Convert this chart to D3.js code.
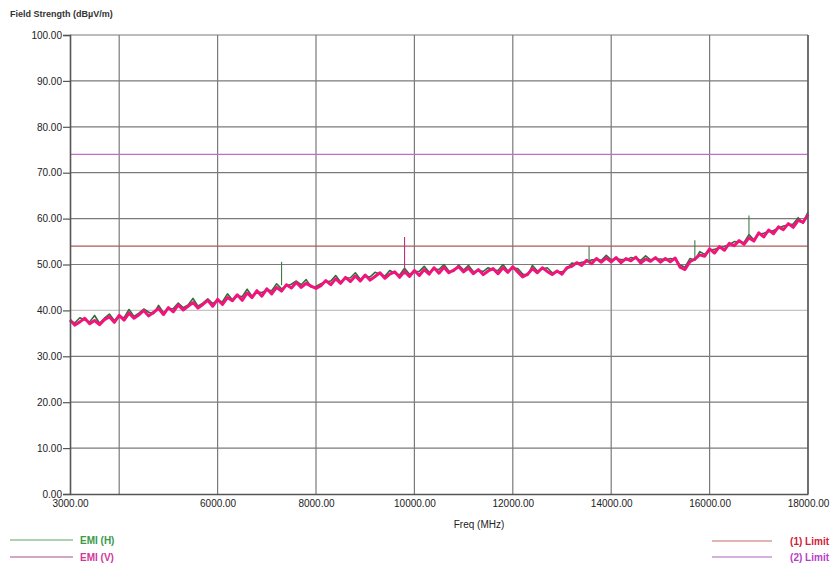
<!DOCTYPE html>
<html><head><meta charset="utf-8">
<script src="https://cdn.jsdelivr.net/npm/d3@7"></script>
<style>body{margin:0;background:#fff}svg{display:block}</style>
</head><body>
<svg id="c" width="834" height="564"></svg>
<script>
// ---------- data ----------
const freqStart = 3000, freqStep = 100;
const emiV = [
37.9,36.8,37.5,38.3,37.1,37.8,36.9,38.0,38.6,37.4,
38.9,37.9,39.4,38.3,39.0,40.0,38.8,39.6,40.4,39.1,
40.6,39.7,41.2,40.1,40.9,41.7,40.5,41.3,42.2,40.9,
42.4,41.3,42.8,42.1,43.4,42.2,43.8,42.8,44.3,43.1,
44.7,43.6,45.0,44.2,45.6,44.9,46.1,45.0,45.9,45.3,
44.8,45.4,46.5,45.6,46.9,45.9,47.2,46.3,47.5,46.4,
47.7,46.6,47.4,48.2,47.0,47.9,48.4,47.2,48.5,47.4,
48.7,47.6,48.9,47.9,49.3,48.1,49.4,48.2,48.8,49.5,
48.4,49.2,48.0,48.9,47.8,48.6,49.1,48.0,49.3,48.3,
49.5,48.4,47.3,47.9,49.1,48.2,49.3,48.5,47.8,48.6,
47.9,49.3,49.6,50.4,49.8,50.9,50.2,51.3,50.5,51.4,
50.6,51.5,50.4,51.3,50.8,51.6,50.3,51.2,50.7,51.5,
50.5,51.3,50.6,51.4,49.4,48.9,50.6,51.2,52.1,51.8,
53.4,52.5,53.9,53.1,54.6,54.1,55.2,54.4,55.8,55.1,
56.9,56.0,57.5,56.7,58.2,57.6,58.9,58.1,59.6,59.2,
60.9];
const emiH = [
37.6,37.3,38.4,37.9,37.5,38.9,37.2,38.3,39.2,37.8,
38.6,38.4,40.2,38.7,39.4,40.3,39.6,39.3,41.1,39.5,
40.3,40.4,41.6,40.6,41.2,42.6,40.9,41.6,42.5,41.5,
42.1,41.9,43.6,42.3,43.1,43.0,44.6,43.1,44.0,43.9,
44.4,44.3,45.8,44.7,45.3,45.7,46.4,45.6,46.7,45.1,
45.2,45.8,46.2,46.4,47.6,46.2,47.0,47.1,48.2,46.8,
47.4,47.3,48.3,47.9,47.5,48.7,48.1,47.7,49.2,47.9,
48.4,48.5,49.6,48.3,49.0,48.9,50.0,48.6,48.5,49.9,
48.8,49.8,48.4,48.6,48.5,49.3,48.8,48.7,50.0,48.6,
49.2,49.1,47.9,47.6,49.8,48.6,49.0,49.3,48.2,48.4,
48.4,49.0,50.3,50.1,50.5,50.6,51.0,51.1,50.9,52.0,
51.0,51.2,51.1,51.0,51.5,51.3,50.9,51.9,51.0,51.2,
51.2,51.0,51.3,51.1,49.9,49.4,51.3,50.9,52.8,52.2,
53.1,53.3,53.6,53.9,54.3,55.0,54.9,54.8,56.5,55.4,
56.6,56.8,57.2,57.4,57.9,58.4,58.6,58.8,60.2,59.0,
61.4];
// narrow spikes
const spikeFreq = [7300, 9800, 13550, 15700, 16800];
const spikeBase = [45.5, 47.8, 50.5, 51.3, 56.0];
const spikeTop  = [50.6, 56.0, 54.0, 55.3, 60.7];
const spikeSeries = ["H", "V", "H", "H", "H"];
const limit1 = 54, limit2 = 74;
const yTicks = [0,10,20,30,40,50,60,70,80,90,100];
const xGrid = [4000,6000,8000,10000,12000,14000,16000,18000];
const xLabels = [3000,6000,8000,10000,12000,14000,16000,18000];

// ---------- layout ----------
const svg = d3.select("#c");
const L = 70, R = 808, T = 35, B = 494;
const x = d3.scaleLinear().domain([3000,18000]).range([L,R]);
const y = d3.scaleLinear().domain([0,100]).range([B,T]);
const font = "'Liberation Sans', Arial, sans-serif";

// grid
svg.append("g").selectAll("line").data(yTicks.filter(d=>d>0)).join("line")
  .attr("x1",L).attr("x2",R).attr("y1",d=>y(d)).attr("y2",d=>y(d))
  .attr("stroke",d=>d===40?"#c4c4c4":"#7a7a7a").attr("stroke-width",1.2);
svg.append("g").selectAll("line").data(xGrid).join("line")
  .attr("x1",d=>x(d)).attr("x2",d=>x(d)).attr("y1",T).attr("y2",B)
  .attr("stroke","#7a7a7a").attr("stroke-width",1.2);

// limits
svg.append("line").attr("x1",L).attr("x2",R).attr("y1",y(limit2)).attr("y2",y(limit2))
  .attr("stroke","#c66cc6").attr("stroke-width",1.2);
svg.append("line").attr("x1",L).attr("x2",R).attr("y1",y(limit1)).attr("y2",y(limit1))
  .attr("stroke","#b05a5a").attr("stroke-width",1.2);

// traces
const line = d3.line().x((d,i)=>x(freqStart+i*freqStep)).y(d=>y(d));
svg.append("path").datum(emiH).attr("d",line).attr("fill","none")
  .attr("stroke","#2f6e36").attr("stroke-width",1.6).attr("stroke-linejoin","round");
svg.append("path").datum(emiV).attr("d",line).attr("fill","none")
  .attr("stroke","#f0147c").attr("stroke-width",3).attr("stroke-linejoin","round");
svg.append("g").selectAll("line").data(spikeFreq).join("line")
  .attr("x1",d=>x(d)).attr("x2",d=>x(d))
  .attr("y1",(d,i)=>y(spikeBase[i])).attr("y2",(d,i)=>y(spikeTop[i]))
  .attr("stroke",(d,i)=>spikeSeries[i]==="V"?"#c0307a":"#3d7d45").attr("stroke-width",1.1);

// axes
const ya = svg.append("g").attr("transform",`translate(${L},0)`)
  .call(d3.axisLeft(y).tickValues(yTicks).tickFormat(d3.format(".2f")).tickSize(7).tickPadding(1));
const xa = svg.append("g").attr("transform",`translate(0,${B})`)
  .call(d3.axisBottom(x).tickValues(xLabels).tickFormat(d3.format(".2f")).tickSize(0).tickPadding(6));
[ya,xa].forEach(g=>{
  g.select(".domain").attr("stroke","#555").attr("stroke-width",1.6);
  g.selectAll(".tick line").attr("stroke","#555").attr("stroke-width",1.2);
  g.selectAll("text").attr("font-family",font).attr("font-size",10).attr("fill","#222");
});
// right border
svg.append("line").attr("x1",R).attr("x2",R).attr("y1",T).attr("y2",B).attr("stroke","#555").attr("stroke-width",1.4);

// titles
svg.append("text").attr("x",10).attr("y",17).text("Field Strength (dBµV/m)")
  .attr("font-family",font).attr("font-size",9).attr("font-weight","bold").attr("fill","#333");
svg.append("text").attr("x",479).attr("y",528).attr("text-anchor","middle").text("Freq (MHz)")
  .attr("font-family",font).attr("font-size",10).attr("fill","#222");

// legend
const legL = [{t:"EMI (H)",c:"#3a9a48",lc:"#5aa55e",y:540},{t:"EMI (V)",c:"#d0389a",lc:"#a3508c",y:557}];
const legR = [{t:"(1) Limit",c:"#d0203a",lc:"#c86a6a",y:541},{t:"(2) Limit",c:"#b83cc8",lc:"#a868b8",y:557}];
legL.forEach(d=>{
  svg.append("line").attr("x1",10).attr("x2",73).attr("y1",d.y).attr("y2",d.y).attr("stroke",d.lc).attr("stroke-width",1.2);
  svg.append("text").attr("x",80).attr("y",d.y+3.5).text(d.t).attr("font-family",font).attr("font-size",10).attr("font-weight","bold").attr("fill",d.c);
});
legR.forEach(d=>{
  svg.append("line").attr("x1",712).attr("x2",772).attr("y1",d.y).attr("y2",d.y).attr("stroke",d.lc).attr("stroke-width",1.2);
  svg.append("text").attr("x",829).attr("y",d.y+3.5).attr("text-anchor","end").text(d.t).attr("font-family",font).attr("font-size",10).attr("font-weight","bold").attr("fill",d.c);
});
</script>
</body></html>
